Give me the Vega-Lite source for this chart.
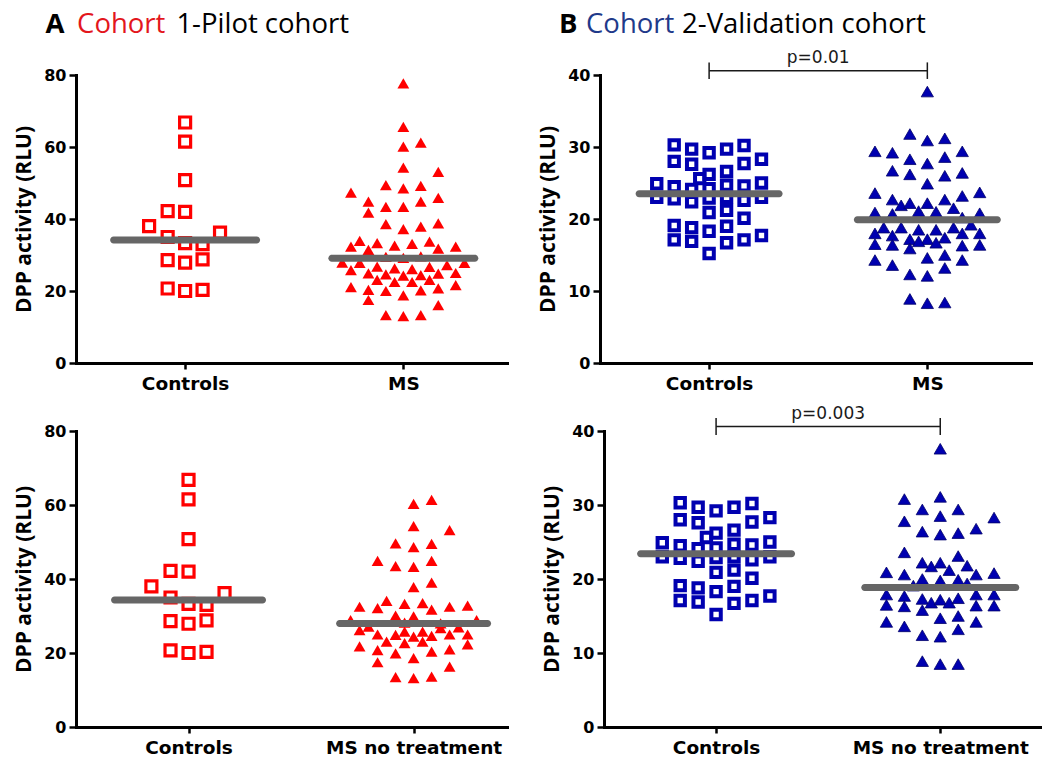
{
  "$schema": "https://vega.github.io/schema/vega-lite/v6.json",
  "background": "white",
  "padding": {"left": 13, "top": 10, "right": 5, "bottom": 5},
  "datasets": {
    "pts": [
      {"c":1,"g":"Controls","slot":1.00,"v":66.8},{"c":1,"g":"Controls","slot":1.00,"v":61.5},{"c":1,"g":"Controls","slot":1.00,"v":50.8},{"c":1,"g":"Controls","slot":0.84,"v":42.2},{"c":1,"g":"Controls","slot":1.00,"v":42.0},{"c":1,"g":"Controls","slot":0.67,"v":38.0},{"c":1,"g":"Controls","slot":1.32,"v":36.2},{"c":1,"g":"Controls","slot":0.84,"v":35.0},{"c":1,"g":"Controls","slot":1.00,"v":33.3},{"c":1,"g":"Controls","slot":1.16,"v":33.0},{"c":1,"g":"Controls","slot":0.84,"v":28.6},{"c":1,"g":"Controls","slot":1.00,"v":27.9},{"c":1,"g":"Controls","slot":1.16,"v":28.8},{"c":1,"g":"Controls","slot":0.84,"v":20.7},{"c":1,"g":"Controls","slot":1.00,"v":20.0},{"c":1,"g":"Controls","slot":1.16,"v":20.3},

      {"c":1,"g":"MS","slot":3.00,"v":77.7},{"c":1,"g":"MS","slot":3.00,"v":65.6},{"c":1,"g":"MS","slot":3.00,"v":60.1},{"c":1,"g":"MS","slot":3.16,"v":61.2},{"c":1,"g":"MS","slot":3.00,"v":54.3},{"c":1,"g":"MS","slot":3.32,"v":53.1},{"c":1,"g":"MS","slot":2.52,"v":47.3},{"c":1,"g":"MS","slot":2.84,"v":49.4},{"c":1,"g":"MS","slot":3.00,"v":48.5},{"c":1,"g":"MS","slot":3.16,"v":49.2},{"c":1,"g":"MS","slot":2.68,"v":44.8},{"c":1,"g":"MS","slot":2.68,"v":41.8},{"c":1,"g":"MS","slot":2.84,"v":43.4},{"c":1,"g":"MS","slot":3.00,"v":43.4},{"c":1,"g":"MS","slot":3.16,"v":44.8},{"c":1,"g":"MS","slot":3.32,"v":45.9},{"c":1,"g":"MS","slot":2.84,"v":38.6},{"c":1,"g":"MS","slot":3.00,"v":37.2},{"c":1,"g":"MS","slot":3.16,"v":37.9},{"c":1,"g":"MS","slot":3.32,"v":38.8},
      {"c":1,"g":"MS","slot":2.52,"v":32.3},{"c":1,"g":"MS","slot":2.60,"v":33.9},{"c":1,"g":"MS","slot":2.68,"v":31.4},{"c":1,"g":"MS","slot":2.76,"v":33.3},{"c":1,"g":"MS","slot":2.92,"v":32.6},{"c":1,"g":"MS","slot":3.08,"v":33.1},{"c":1,"g":"MS","slot":3.24,"v":33.7},{"c":1,"g":"MS","slot":3.32,"v":31.8},{"c":1,"g":"MS","slot":3.48,"v":32.3},
      {"c":1,"g":"MS","slot":2.84,"v":29.5},{"c":1,"g":"MS","slot":3.00,"v":29.2},{"c":1,"g":"MS","slot":3.16,"v":29.6},
      {"c":1,"g":"MS","slot":2.44,"v":27.9},{"c":1,"g":"MS","slot":2.60,"v":27.8},{"c":1,"g":"MS","slot":2.52,"v":25.8},{"c":1,"g":"MS","slot":2.76,"v":26.8},{"c":1,"g":"MS","slot":2.92,"v":26.3},{"c":1,"g":"MS","slot":3.08,"v":26.1},{"c":1,"g":"MS","slot":3.24,"v":26.7},{"c":1,"g":"MS","slot":3.40,"v":27.2},{"c":1,"g":"MS","slot":3.56,"v":27.8},
      {"c":1,"g":"MS","slot":2.68,"v":24.9},{"c":1,"g":"MS","slot":2.84,"v":24.6},{"c":1,"g":"MS","slot":3.00,"v":24.3},{"c":1,"g":"MS","slot":3.16,"v":24.4},{"c":1,"g":"MS","slot":3.32,"v":24.8},{"c":1,"g":"MS","slot":3.48,"v":25.0},
      {"c":1,"g":"MS","slot":2.76,"v":23.1},{"c":1,"g":"MS","slot":2.92,"v":22.5},{"c":1,"g":"MS","slot":3.08,"v":22.5},{"c":1,"g":"MS","slot":3.24,"v":23.1},
      {"c":1,"g":"MS","slot":2.52,"v":21.1},{"c":1,"g":"MS","slot":2.68,"v":20.3},{"c":1,"g":"MS","slot":2.84,"v":20.0},{"c":1,"g":"MS","slot":3.16,"v":20.2},{"c":1,"g":"MS","slot":3.32,"v":20.7},{"c":1,"g":"MS","slot":3.48,"v":21.6},
      {"c":1,"g":"MS","slot":3.00,"v":18.8},{"c":1,"g":"MS","slot":2.68,"v":17.5},{"c":1,"g":"MS","slot":3.32,"v":16.1},
      {"c":1,"g":"MS","slot":2.84,"v":13.3},{"c":1,"g":"MS","slot":3.00,"v":13.0},{"c":1,"g":"MS","slot":3.16,"v":13.3},

      {"c":1,"g":"MSnt","slot":3.00,"v":60.3},{"c":1,"g":"MSnt","slot":3.16,"v":61.4},{"c":1,"g":"MSnt","slot":3.00,"v":54.3},{"c":1,"g":"MSnt","slot":3.32,"v":53.2},{"c":1,"g":"MSnt","slot":2.84,"v":49.6},{"c":1,"g":"MSnt","slot":3.00,"v":48.6},{"c":1,"g":"MSnt","slot":3.16,"v":49.5},{"c":1,"g":"MSnt","slot":2.68,"v":44.9},{"c":1,"g":"MSnt","slot":2.84,"v":43.5},{"c":1,"g":"MSnt","slot":3.00,"v":43.3},{"c":1,"g":"MSnt","slot":3.16,"v":44.9},{"c":1,"g":"MSnt","slot":3.00,"v":37.8},{"c":1,"g":"MSnt","slot":3.16,"v":39.0},
      {"c":1,"g":"MSnt","slot":2.52,"v":32.5},{"c":1,"g":"MSnt","slot":2.68,"v":32.1},{"c":1,"g":"MSnt","slot":2.76,"v":34.1},{"c":1,"g":"MSnt","slot":2.92,"v":33.3},{"c":1,"g":"MSnt","slot":3.08,"v":33.5},{"c":1,"g":"MSnt","slot":3.16,"v":31.7},{"c":1,"g":"MSnt","slot":3.32,"v":32.5},{"c":1,"g":"MSnt","slot":3.48,"v":32.8},{"c":1,"g":"MSnt","slot":2.84,"v":30.1},{"c":1,"g":"MSnt","slot":3.00,"v":29.9},{"c":1,"g":"MSnt","slot":2.44,"v":28.9},{"c":1,"g":"MSnt","slot":3.56,"v":28.9},
      {"c":1,"g":"MSnt","slot":2.92,"v":28.2},{"c":1,"g":"MSnt","slot":3.24,"v":28.0},
      {"c":1,"g":"MSnt","slot":2.52,"v":26.2},{"c":1,"g":"MSnt","slot":2.68,"v":25.0},{"c":1,"g":"MSnt","slot":2.84,"v":24.9},{"c":1,"g":"MSnt","slot":2.92,"v":25.8},{"c":1,"g":"MSnt","slot":3.08,"v":25.8},{"c":1,"g":"MSnt","slot":3.16,"v":24.6},{"c":1,"g":"MSnt","slot":3.24,"v":26.7},{"c":1,"g":"MSnt","slot":3.32,"v":25.0},{"c":1,"g":"MSnt","slot":3.40,"v":26.9},{"c":1,"g":"MSnt","slot":3.48,"v":25.0},{"c":1,"g":"MSnt","slot":2.60,"v":27.1},
      {"c":1,"g":"MSnt","slot":2.76,"v":23.1},{"c":1,"g":"MSnt","slot":2.92,"v":22.7},{"c":1,"g":"MSnt","slot":3.08,"v":23.1},{"c":1,"g":"MSnt","slot":3.00,"v":24.4},
      {"c":1,"g":"MSnt","slot":2.52,"v":21.8},{"c":1,"g":"MSnt","slot":2.68,"v":20.8},{"c":1,"g":"MSnt","slot":2.84,"v":19.9},{"c":1,"g":"MSnt","slot":3.16,"v":20.4},{"c":1,"g":"MSnt","slot":3.32,"v":21.0},{"c":1,"g":"MSnt","slot":3.48,"v":22.3},
      {"c":1,"g":"MSnt","slot":2.68,"v":17.5},{"c":1,"g":"MSnt","slot":3.00,"v":18.6},{"c":1,"g":"MSnt","slot":3.32,"v":16.3},
      {"c":1,"g":"MSnt","slot":2.84,"v":13.5},{"c":1,"g":"MSnt","slot":3.00,"v":13.2},{"c":1,"g":"MSnt","slot":3.16,"v":13.6},

      {"c":2,"g":"Controls","slot":0.68,"v":30.3},{"c":2,"g":"Controls","slot":0.84,"v":29.7},{"c":2,"g":"Controls","slot":1.00,"v":29.2},{"c":2,"g":"Controls","slot":1.16,"v":29.7},{"c":2,"g":"Controls","slot":1.32,"v":30.2},
      {"c":2,"g":"Controls","slot":0.68,"v":28.0},{"c":2,"g":"Controls","slot":0.84,"v":27.6},{"c":2,"g":"Controls","slot":1.32,"v":27.7},{"c":2,"g":"Controls","slot":1.48,"v":28.3},
      {"c":2,"g":"Controls","slot":1.00,"v":26.2},{"c":2,"g":"Controls","slot":1.16,"v":26.6},{"c":2,"g":"Controls","slot":0.914,"v":25.6},
      {"c":2,"g":"Controls","slot":0.52,"v":24.9},{"c":2,"g":"Controls","slot":0.68,"v":24.5},{"c":2,"g":"Controls","slot":0.84,"v":24.1},{"c":2,"g":"Controls","slot":1.00,"v":24.2},{"c":2,"g":"Controls","slot":1.16,"v":24.7},{"c":2,"g":"Controls","slot":1.32,"v":24.6},{"c":2,"g":"Controls","slot":1.48,"v":25.0},
      {"c":2,"g":"Controls","slot":0.52,"v":23.0},{"c":2,"g":"Controls","slot":0.68,"v":22.8},{"c":2,"g":"Controls","slot":0.84,"v":22.4},{"c":2,"g":"Controls","slot":1.00,"v":22.9},{"c":2,"g":"Controls","slot":1.16,"v":23.0},{"c":2,"g":"Controls","slot":1.32,"v":22.6},{"c":2,"g":"Controls","slot":1.48,"v":23.0},
      {"c":2,"g":"Controls","slot":1.00,"v":20.9},{"c":2,"g":"Controls","slot":1.16,"v":21.2},{"c":2,"g":"Controls","slot":1.32,"v":20.1},
      {"c":2,"g":"Controls","slot":0.68,"v":19.1},{"c":2,"g":"Controls","slot":0.84,"v":18.8},{"c":2,"g":"Controls","slot":1.00,"v":18.3},{"c":2,"g":"Controls","slot":1.16,"v":19.0},
      {"c":2,"g":"Controls","slot":0.68,"v":17.1},{"c":2,"g":"Controls","slot":0.84,"v":16.9},{"c":2,"g":"Controls","slot":1.16,"v":16.7},{"c":2,"g":"Controls","slot":1.32,"v":17.1},{"c":2,"g":"Controls","slot":1.48,"v":17.7},
      {"c":2,"g":"Controls","slot":1.00,"v":15.2},

      {"c":2,"g":"MS","slot":3.00,"v":37.7},{"c":2,"g":"MS","slot":2.84,"v":31.8},{"c":2,"g":"MS","slot":3.00,"v":30.9},{"c":2,"g":"MS","slot":3.16,"v":31.2},
      {"c":2,"g":"MS","slot":2.52,"v":29.4},{"c":2,"g":"MS","slot":2.68,"v":29.2},{"c":2,"g":"MS","slot":3.32,"v":29.4},
      {"c":2,"g":"MS","slot":2.84,"v":28.3},{"c":2,"g":"MS","slot":3.00,"v":27.7},{"c":2,"g":"MS","slot":3.16,"v":28.6},
      {"c":2,"g":"MS","slot":2.68,"v":26.7},{"c":2,"g":"MS","slot":2.84,"v":26.2},{"c":2,"g":"MS","slot":3.16,"v":26.0},{"c":2,"g":"MS","slot":3.32,"v":26.4},
      {"c":2,"g":"MS","slot":3.00,"v":24.9},
      {"c":2,"g":"MS","slot":2.52,"v":23.6},{"c":2,"g":"MS","slot":3.48,"v":23.7},
      {"c":2,"g":"MS","slot":2.68,"v":22.7},{"c":2,"g":"MS","slot":2.76,"v":21.9},{"c":2,"g":"MS","slot":2.84,"v":22.2},{"c":2,"g":"MS","slot":3.00,"v":22.2},{"c":2,"g":"MS","slot":3.16,"v":22.7},{"c":2,"g":"MS","slot":3.32,"v":23.2},
      {"c":2,"g":"MS","slot":2.92,"v":21.1},{"c":2,"g":"MS","slot":3.08,"v":21.0},{"c":2,"g":"MS","slot":3.24,"v":21.5},
      {"c":2,"g":"MS","slot":2.52,"v":20.9},{"c":2,"g":"MS","slot":2.68,"v":20.7},{"c":2,"g":"MS","slot":3.48,"v":20.8},{"c":2,"g":"MS","slot":3.32,"v":20.2},
      {"c":2,"g":"MS","slot":2.60,"v":18.8},{"c":2,"g":"MS","slot":2.76,"v":18.8},{"c":2,"g":"MS","slot":2.92,"v":18.5},{"c":2,"g":"MS","slot":3.08,"v":18.5},{"c":2,"g":"MS","slot":3.24,"v":18.8},{"c":2,"g":"MS","slot":3.40,"v":19.2},
      {"c":2,"g":"MS","slot":2.52,"v":18.0},{"c":2,"g":"MS","slot":2.68,"v":17.7},{"c":2,"g":"MS","slot":2.84,"v":17.2},{"c":2,"g":"MS","slot":3.00,"v":17.2},{"c":2,"g":"MS","slot":3.16,"v":17.4},{"c":2,"g":"MS","slot":3.32,"v":18.0},{"c":2,"g":"MS","slot":3.48,"v":18.0},
      {"c":2,"g":"MS","slot":2.52,"v":16.5},{"c":2,"g":"MS","slot":2.68,"v":16.4},{"c":2,"g":"MS","slot":2.84,"v":15.9},{"c":2,"g":"MS","slot":2.92,"v":16.9},{"c":2,"g":"MS","slot":3.08,"v":16.7},{"c":2,"g":"MS","slot":3.32,"v":16.3},{"c":2,"g":"MS","slot":3.48,"v":16.4},
      {"c":2,"g":"MS","slot":2.52,"v":14.3},{"c":2,"g":"MS","slot":2.68,"v":13.6},{"c":2,"g":"MS","slot":3.00,"v":14.6},{"c":2,"g":"MS","slot":3.16,"v":15.0},{"c":2,"g":"MS","slot":3.32,"v":14.3},
      {"c":2,"g":"MS","slot":3.16,"v":13.2},{"c":2,"g":"MS","slot":2.84,"v":12.3},{"c":2,"g":"MS","slot":3.00,"v":12.1},
      {"c":2,"g":"MS","slot":2.84,"v":8.9},{"c":2,"g":"MS","slot":3.00,"v":8.3},{"c":2,"g":"MS","slot":3.16,"v":8.4},

      {"c":2,"g":"MSnt","slot":3.00,"v":37.6},{"c":2,"g":"MSnt","slot":2.68,"v":30.8},{"c":2,"g":"MSnt","slot":3.00,"v":31.1},{"c":2,"g":"MSnt","slot":2.84,"v":29.4},{"c":2,"g":"MSnt","slot":3.16,"v":29.4},{"c":2,"g":"MSnt","slot":3.48,"v":28.3},{"c":2,"g":"MSnt","slot":2.68,"v":27.8},{"c":2,"g":"MSnt","slot":3.00,"v":28.5},
      {"c":2,"g":"MSnt","slot":2.84,"v":26.4},{"c":2,"g":"MSnt","slot":3.00,"v":26.0},{"c":2,"g":"MSnt","slot":3.16,"v":26.2},{"c":2,"g":"MSnt","slot":3.32,"v":26.8},
      {"c":2,"g":"MSnt","slot":2.68,"v":23.6},{"c":2,"g":"MSnt","slot":3.16,"v":23.1},{"c":2,"g":"MSnt","slot":2.84,"v":22.2},{"c":2,"g":"MSnt","slot":2.92,"v":21.7},{"c":2,"g":"MSnt","slot":3.00,"v":22.2},{"c":2,"g":"MSnt","slot":3.08,"v":21.2},{"c":2,"g":"MSnt","slot":3.24,"v":21.8},
      {"c":2,"g":"MSnt","slot":2.52,"v":20.9},{"c":2,"g":"MSnt","slot":2.68,"v":20.6},{"c":2,"g":"MSnt","slot":3.32,"v":20.6},{"c":2,"g":"MSnt","slot":3.48,"v":20.8},{"c":2,"g":"MSnt","slot":2.84,"v":20.0},{"c":2,"g":"MSnt","slot":3.00,"v":19.8},{"c":2,"g":"MSnt","slot":3.16,"v":19.9},{"c":2,"g":"MSnt","slot":3.24,"v":19.4},{"c":2,"g":"MSnt","slot":2.76,"v":19.1},
      {"c":2,"g":"MSnt","slot":2.52,"v":17.9},{"c":2,"g":"MSnt","slot":2.68,"v":17.7},{"c":2,"g":"MSnt","slot":2.84,"v":17.3},{"c":2,"g":"MSnt","slot":2.92,"v":16.8},{"c":2,"g":"MSnt","slot":3.00,"v":17.2},{"c":2,"g":"MSnt","slot":3.08,"v":16.8},{"c":2,"g":"MSnt","slot":3.16,"v":17.4},{"c":2,"g":"MSnt","slot":3.32,"v":17.9},{"c":2,"g":"MSnt","slot":3.48,"v":17.9},
      {"c":2,"g":"MSnt","slot":2.52,"v":16.5},{"c":2,"g":"MSnt","slot":2.68,"v":16.3},{"c":2,"g":"MSnt","slot":2.84,"v":15.8},{"c":2,"g":"MSnt","slot":3.32,"v":16.4},{"c":2,"g":"MSnt","slot":3.48,"v":16.4},
      {"c":2,"g":"MSnt","slot":2.52,"v":14.2},{"c":2,"g":"MSnt","slot":2.68,"v":13.6},{"c":2,"g":"MSnt","slot":3.00,"v":14.7},{"c":2,"g":"MSnt","slot":3.16,"v":15.0},{"c":2,"g":"MSnt","slot":3.32,"v":14.2},
      {"c":2,"g":"MSnt","slot":3.16,"v":13.2},{"c":2,"g":"MSnt","slot":2.84,"v":12.4},{"c":2,"g":"MSnt","slot":3.00,"v":12.2},
      {"c":2,"g":"MSnt","slot":2.84,"v":8.9},{"c":2,"g":"MSnt","slot":3.00,"v":8.5},{"c":2,"g":"MSnt","slot":3.16,"v":8.5}
    ],
    "bars": [
      {"p":"A1","slot":1,"v":34.2},{"p":"A1","slot":3,"v":29.1},
      {"p":"A2","slot":1,"v":34.3},{"p":"A2","slot":3,"v":28.0},
      {"p":"B1","slot":1,"v":23.5},{"p":"B1","slot":3,"v":19.9},
      {"p":"B2","slot":1,"v":23.4},{"p":"B2","slot":3,"v":18.85}
    ]
  },
  "vconcat": [
    {
      "hconcat": [
        {
          "width": 431, "height": 288,
          "layer": [
            {"data": {"name": "pts"}, "transform": [{"filter": "datum.c == 1 && datum.g == 'Controls'"}], "mark": {"type": "point", "shape": "square", "filled": false, "size": 121, "strokeWidth": 3.2, "color": "#FF0000", "opacity": 1},
             "encoding": {
               "x": {"field": "slot", "type": "quantitative", "title": null, "scale": {"domain": [0, 3.95]}, "axis": {"values": [1, 3], "labelExpr": "datum.value == 1 ? 'Controls' : 'MS'"}},
               "y": {"field": "v", "type": "quantitative", "title": "DPP activity (RLU)", "scale": {"domain": [0, 80]}, "axis": {"values": [0, 20, 40, 60, 80]}}
             }},
            {"data": {"name": "pts"}, "transform": [{"filter": "datum.c == 1 && datum.g == 'MS'"}], "mark": {"type": "point", "shape": "triangle-up", "filled": true, "size": 140, "color": "#FF0000", "opacity": 1},
             "encoding": {"x": {"field": "slot", "type": "quantitative", "title": null, "scale": {"domain": [0, 3.95]}}, "y": {"field": "v", "type": "quantitative", "title": "DPP activity (RLU)", "scale": {"domain": [0, 80]}}}},
            {"data": {"name": "bars"}, "transform": [{"filter": "datum.p == 'A1'"}], "mark": {"type": "tick", "orient": "horizontal", "size": 150, "thickness": 7, "cornerRadius": 3.5, "color": "#666666", "opacity": 1},
             "encoding": {"x": {"field": "slot", "type": "quantitative", "title": null, "scale": {"domain": [0, 3.95]}}, "y": {"field": "v", "type": "quantitative", "title": "DPP activity (RLU)", "scale": {"domain": [0, 80]}}}},
            {"data": {"values": [{}]}, "mark": {"type": "text", "text": "A", "font": "Open Sans", "fontSize": 27.5, "fontWeight": "bold", "align": "left", "baseline": "alphabetic", "color": "#000000"},
             "encoding": {"x": {"datum": -0.28, "type": "quantitative", "scale": {"domain": [0, 3.95]}}, "y": {"datum": 91.7, "type": "quantitative", "scale": {"domain": [0, 80]}}}},
            {"data": {"values": [{}]}, "mark": {"type": "text", "text": "Cohort", "font": "Open Sans", "fontSize": 27.5, "align": "left", "baseline": "alphabetic", "color": "#E3161C"},
             "encoding": {"x": {"datum": 0.01, "type": "quantitative", "scale": {"domain": [0, 3.95]}}, "y": {"datum": 91.7, "type": "quantitative", "scale": {"domain": [0, 80]}}}},
            {"data": {"values": [{}]}, "mark": {"type": "text", "text": "1-Pilot cohort", "font": "Open Sans", "fontSize": 27.5, "align": "left", "baseline": "alphabetic", "color": "#000000"},
             "encoding": {"x": {"datum": 0.92, "type": "quantitative", "scale": {"domain": [0, 3.95]}}, "y": {"datum": 91.7, "type": "quantitative", "scale": {"domain": [0, 80]}}}}
          ]
        },
        {
          "width": 431, "height": 288,
          "layer": [
            {"data": {"name": "pts"}, "transform": [{"filter": "datum.c == 2 && datum.g == 'Controls'"}], "mark": {"type": "point", "shape": "square", "filled": false, "size": 88, "strokeWidth": 4, "color": "#0000B0", "opacity": 1},
             "encoding": {
               "x": {"field": "slot", "type": "quantitative", "title": null, "scale": {"domain": [0, 3.95]}, "axis": {"values": [1, 3], "labelExpr": "datum.value == 1 ? 'Controls' : 'MS'"}},
               "y": {"field": "v", "type": "quantitative", "title": "DPP activity (RLU)", "scale": {"domain": [0, 40]}, "axis": {"values": [0, 10, 20, 30, 40]}}
             }},
            {"data": {"name": "pts"}, "transform": [{"filter": "datum.c == 2 && datum.g == 'MS'"}], "mark": {"type": "point", "shape": "triangle-up", "filled": true, "size": 150, "color": "#0000B0", "stroke": "#00006A", "strokeWidth": 0.8, "opacity": 1},
             "encoding": {"x": {"field": "slot", "type": "quantitative", "title": null, "scale": {"domain": [0, 3.95]}}, "y": {"field": "v", "type": "quantitative", "title": "DPP activity (RLU)", "scale": {"domain": [0, 40]}}}},
            {"data": {"name": "bars"}, "transform": [{"filter": "datum.p == 'B1'"}], "mark": {"type": "tick", "orient": "horizontal", "size": 147, "thickness": 7, "cornerRadius": 3.5, "color": "#666666", "opacity": 1},
             "encoding": {"x": {"field": "slot", "type": "quantitative", "title": null, "scale": {"domain": [0, 3.95]}}, "y": {"field": "v", "type": "quantitative", "title": "DPP activity (RLU)", "scale": {"domain": [0, 40]}}}},
            {"data": {"values": [{}]}, "mark": {"type": "rule", "color": "#1A1A1A", "strokeWidth": 1.5},
             "encoding": {"x": {"datum": 1, "type": "quantitative", "scale": {"domain": [0, 3.95]}}, "x2": {"datum": 3}, "y": {"datum": 40.6, "type": "quantitative", "scale": {"domain": [0, 40]}}}},
            {"data": {"values": [{}]}, "mark": {"type": "rule", "color": "#1A1A1A", "strokeWidth": 1.5},
             "encoding": {"x": {"datum": 1, "type": "quantitative", "scale": {"domain": [0, 3.95]}}, "y": {"datum": 39.45, "type": "quantitative", "scale": {"domain": [0, 40]}}, "y2": {"datum": 41.75}}},
            {"data": {"values": [{}]}, "mark": {"type": "rule", "color": "#1A1A1A", "strokeWidth": 1.5},
             "encoding": {"x": {"datum": 3, "type": "quantitative", "scale": {"domain": [0, 3.95]}}, "y": {"datum": 39.45, "type": "quantitative", "scale": {"domain": [0, 40]}}, "y2": {"datum": 41.75}}},
            {"data": {"values": [{}]}, "mark": {"type": "text", "text": "p=0.01", "font": "DejaVu Sans", "fontSize": 17, "align": "center", "baseline": "alphabetic", "color": "#1A1A1A"},
             "encoding": {"x": {"datum": 2, "type": "quantitative", "scale": {"domain": [0, 3.95]}}, "y": {"datum": 41.6, "type": "quantitative", "scale": {"domain": [0, 40]}}}},
            {"data": {"values": [{}]}, "mark": {"type": "text", "text": "B", "font": "Open Sans", "fontSize": 27.5, "fontWeight": "bold", "align": "left", "baseline": "alphabetic", "color": "#000000"},
             "encoding": {"x": {"datum": -0.376, "type": "quantitative", "scale": {"domain": [0, 3.95]}}, "y": {"datum": 45.85, "type": "quantitative", "scale": {"domain": [0, 40]}}}},
            {"data": {"values": [{}]}, "mark": {"type": "text", "text": "Cohort", "font": "Open Sans", "fontSize": 27.5, "align": "left", "baseline": "alphabetic", "color": "#1F3A8A"},
             "encoding": {"x": {"datum": -0.128, "type": "quantitative", "scale": {"domain": [0, 3.95]}}, "y": {"datum": 45.85, "type": "quantitative", "scale": {"domain": [0, 40]}}}},
            {"data": {"values": [{}]}, "mark": {"type": "text", "text": "2-Validation cohort", "font": "Open Sans", "fontSize": 27.5, "align": "left", "baseline": "alphabetic", "color": "#000000"},
             "encoding": {"x": {"datum": 0.752, "type": "quantitative", "scale": {"domain": [0, 3.95]}}, "y": {"datum": 45.85, "type": "quantitative", "scale": {"domain": [0, 40]}}}}
          ]
        }
      ],
      "spacing": 30
    },
    {
      "hconcat": [
        {
          "width": 431, "height": 296,
          "layer": [
            {"data": {"name": "pts"}, "transform": [{"filter": "datum.c == 1 && datum.g == 'Controls'"}], "mark": {"type": "point", "shape": "square", "filled": false, "size": 121, "strokeWidth": 3.2, "color": "#FF0000", "opacity": 1},
             "encoding": {
               "x": {"field": "slot", "type": "quantitative", "title": null, "scale": {"domain": [0, 3.83]}, "axis": {"values": [1, 3], "labelExpr": "datum.value == 1 ? 'Controls' : 'MS no treatment'"}},
               "y": {"field": "v", "type": "quantitative", "title": "DPP activity (RLU)", "scale": {"domain": [0, 80]}, "axis": {"values": [0, 20, 40, 60, 80]}}
             }},
            {"data": {"name": "pts"}, "transform": [{"filter": "datum.c == 1 && datum.g == 'MSnt'"}], "mark": {"type": "point", "shape": "triangle-up", "filled": true, "size": 140, "color": "#FF0000", "opacity": 1},
             "encoding": {"x": {"field": "slot", "type": "quantitative", "title": null, "scale": {"domain": [0, 3.83]}}, "y": {"field": "v", "type": "quantitative", "title": "DPP activity (RLU)", "scale": {"domain": [0, 80]}}}},
            {"data": {"name": "bars"}, "transform": [{"filter": "datum.p == 'A2'"}], "mark": {"type": "tick", "orient": "horizontal", "size": 155, "thickness": 7, "cornerRadius": 3.5, "color": "#666666", "opacity": 1},
             "encoding": {"x": {"field": "slot", "type": "quantitative", "title": null, "scale": {"domain": [0, 3.83]}}, "y": {"field": "v", "type": "quantitative", "title": "DPP activity (RLU)", "scale": {"domain": [0, 80]}}}}
          ]
        },
        {
          "width": 436, "height": 296,
          "layer": [
            {"data": {"name": "pts"}, "transform": [{"filter": "datum.c == 2 && datum.g == 'Controls'"}], "mark": {"type": "point", "shape": "square", "filled": false, "size": 88, "strokeWidth": 4, "color": "#0000B0", "opacity": 1},
             "encoding": {
               "x": {"field": "slot", "type": "quantitative", "title": null, "scale": {"domain": [0, 3.89]}, "axis": {"values": [1, 3], "labelExpr": "datum.value == 1 ? 'Controls' : 'MS no treatment'"}},
               "y": {"field": "v", "type": "quantitative", "title": "DPP activity (RLU)", "scale": {"domain": [0, 40]}, "axis": {"values": [0, 10, 20, 30, 40]}}
             }},
            {"data": {"name": "pts"}, "transform": [{"filter": "datum.c == 2 && datum.g == 'MSnt'"}], "mark": {"type": "point", "shape": "triangle-up", "filled": true, "size": 150, "color": "#0000B0", "stroke": "#00006A", "strokeWidth": 0.8, "opacity": 1},
             "encoding": {"x": {"field": "slot", "type": "quantitative", "title": null, "scale": {"domain": [0, 3.89]}}, "y": {"field": "v", "type": "quantitative", "title": "DPP activity (RLU)", "scale": {"domain": [0, 40]}}}},
            {"data": {"name": "bars"}, "transform": [{"filter": "datum.p == 'B2'"}], "mark": {"type": "tick", "orient": "horizontal", "size": 158, "thickness": 7, "cornerRadius": 3.5, "color": "#666666", "opacity": 1},
             "encoding": {"x": {"field": "slot", "type": "quantitative", "title": null, "scale": {"domain": [0, 3.89]}}, "y": {"field": "v", "type": "quantitative", "title": "DPP activity (RLU)", "scale": {"domain": [0, 40]}}}},
            {"data": {"values": [{}]}, "mark": {"type": "rule", "color": "#1A1A1A", "strokeWidth": 1.5},
             "encoding": {"x": {"datum": 1, "type": "quantitative", "scale": {"domain": [0, 3.89]}}, "x2": {"datum": 3}, "y": {"datum": 40.6, "type": "quantitative", "scale": {"domain": [0, 40]}}}},
            {"data": {"values": [{}]}, "mark": {"type": "rule", "color": "#1A1A1A", "strokeWidth": 1.5},
             "encoding": {"x": {"datum": 1, "type": "quantitative", "scale": {"domain": [0, 3.89]}}, "y": {"datum": 39.45, "type": "quantitative", "scale": {"domain": [0, 40]}}, "y2": {"datum": 41.75}}},
            {"data": {"values": [{}]}, "mark": {"type": "rule", "color": "#1A1A1A", "strokeWidth": 1.5},
             "encoding": {"x": {"datum": 3, "type": "quantitative", "scale": {"domain": [0, 3.89]}}, "y": {"datum": 39.45, "type": "quantitative", "scale": {"domain": [0, 40]}}, "y2": {"datum": 41.75}}},
            {"data": {"values": [{}]}, "mark": {"type": "text", "text": "p=0.003", "font": "DejaVu Sans", "fontSize": 17, "align": "center", "baseline": "alphabetic", "color": "#1A1A1A"},
             "encoding": {"x": {"datum": 2, "type": "quantitative", "scale": {"domain": [0, 3.89]}}, "y": {"datum": 41.6, "type": "quantitative", "scale": {"domain": [0, 40]}}}}
          ]
        }
      ],
      "spacing": 34
    }
  ],
  "spacing": 12,
  "config": {
    "view": {"stroke": null},
    "axis": {"grid": false, "domainColor": "#000000", "domainWidth": 3, "domainCap": "square", "tickColor": "#000000", "tickWidth": 2.5, "labelColor": "#000000", "labelFont": "DejaVu Sans", "labelFontWeight": "bold", "titleColor": "#000000", "titleFont": "Open Sans", "titleFontWeight": "bold", "titleFontSize": 21},
    "axisX": {"labelFontSize": 18.5, "labelPadding": 5, "tickSize": 6},
    "axisY": {"labelFontSize": 16, "labelPadding": 3, "tickSize": 7, "titlePadding": 9}
  }
}
